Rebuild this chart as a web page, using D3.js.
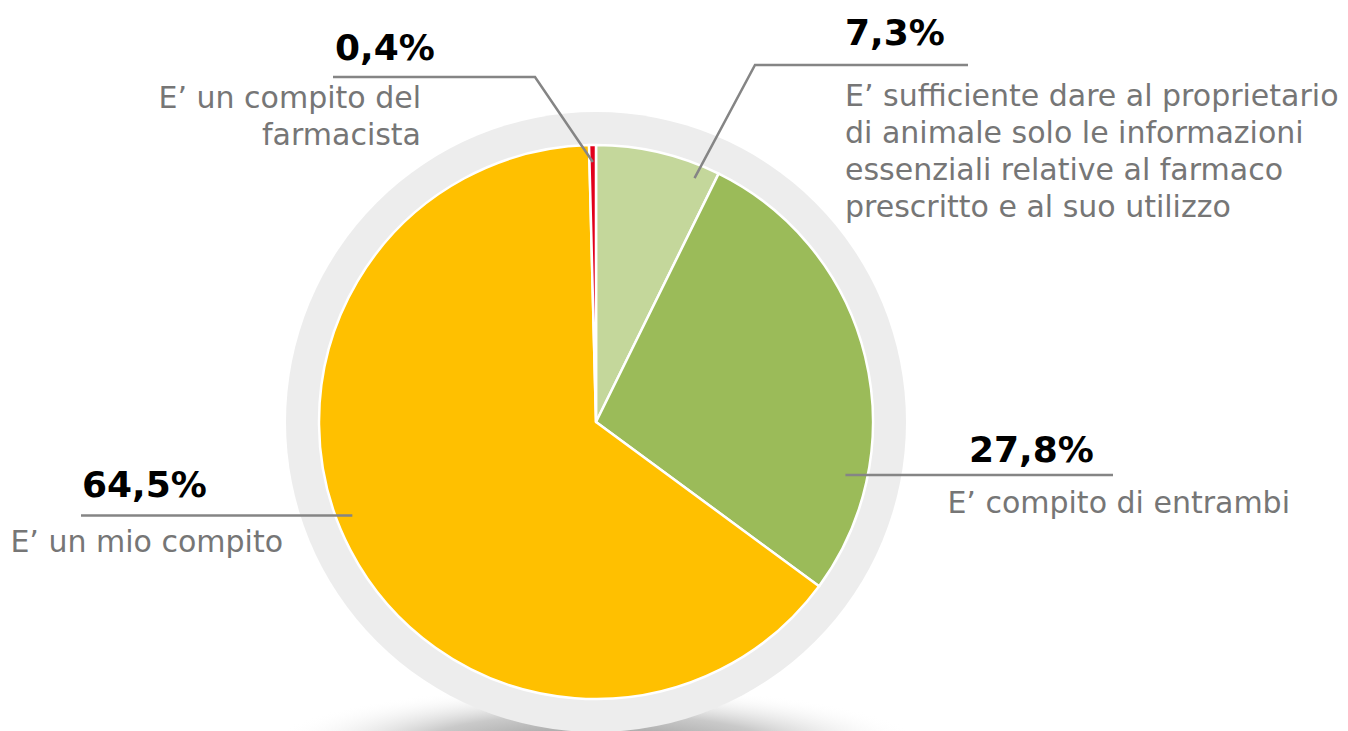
<!DOCTYPE html>
<html>
<head>
<meta charset="utf-8">
<script src="https://cdn.jsdelivr.net/npm/d3@7"></script>
<style>
  body { margin: 0; background: #fff; }
  svg { display: block; }
</style>
</head>
<body>
<div id="chart"></div>
<script>
// data (clockwise from 12 o'clock)
var categories = [
    "E\u2019 sufficiente dare al proprietario|di animale solo le informazioni|essenziali relative al farmaco|prescritto e al suo utilizzo",
    "E\u2019 compito di entrambi",
    "E\u2019 un mio compito",
    "E\u2019 un compito del|farmacista"
];
var values = [7.3, 27.8, 64.5, 0.4];
var valueLabels = ["7,3%", "27,8%", "64,5%", "0,4%"];
var colors = ["#c4d79b", "#9bbb59", "#ffc000", "#e2001a"];

// label layout: leader start (angle deg, radius), elbow, line end, text spots
var layout = [
    {ang: 22, r: 263, elbow: [755, 65], end: 968, px: 845, py: 45, pa: "start", lx: 845, ly: 106, la: "start"},
    {ang: 102, r: 255, elbow: null, end: 1113, px: 969, py: 462, pa: "start", lx: 1290, ly: 513, la: "end"},
    {ang: 249, r: 261, elbow: null, end: 81, px: 82, py: 497, pa: "start", lx: 283, ly: 552, la: "end"},
    {ang: 359.3, r: 260, elbow: [535, 77], end: 333, px: 335, py: 60, pa: "start", lx: 421, ly: 108, la: "end"}
];

var W = 1348, H = 731;
var cx = 596, cy = 422, radius = 277, ringR = 310;

var svg = d3.select("#chart").append("svg")
    .attr("width", W)
    .attr("height", H);

var defs = svg.append("defs");
var grad = defs.append("radialGradient").attr("id", "shadowGrad");
grad.append("stop").attr("offset", "0%").attr("stop-color", "#8a8a8a").attr("stop-opacity", 1);
grad.append("stop").attr("offset", "55%").attr("stop-color", "#c0c0c0").attr("stop-opacity", 0.85);
grad.append("stop").attr("offset", "100%").attr("stop-color", "#ffffff").attr("stop-opacity", 0);

// soft shadow under the plate
svg.append("ellipse")
    .attr("cx", cx).attr("cy", 748)
    .attr("rx", 330).attr("ry", 62)
    .attr("fill", "url(#shadowGrad)");

var g = svg.append("g").attr("transform", "translate(" + cx + "," + cy + ")");

// grey plate behind the pie
g.append("circle").attr("r", ringR).attr("fill", "#ededed");

var pie = d3.pie().sort(null).value(function(d) { return d; });
var arc = d3.arc().innerRadius(0).outerRadius(radius);

g.selectAll("path.slice")
    .data(pie(values))
    .enter().append("path")
    .attr("class", "slice")
    .attr("d", arc)
    .attr("fill", function(d, i) { return colors[i]; })
    .attr("stroke", "#fff")
    .attr("stroke-width", 2.5)
    .attr("stroke-linejoin", "round");

// leaders and labels
layout.forEach(function(L, i) {
    var a = L.ang * Math.PI / 180;
    var sx = cx + L.r * Math.sin(a), sy = cy - L.r * Math.cos(a);
    var pts;
    if (L.elbow) pts = [[sx, sy], L.elbow, [L.end, L.elbow[1]]];
    else pts = [[sx, sy], [L.end, sy]];

    svg.append("path")
        .attr("d", d3.line()(pts))
        .attr("fill", "none")
        .attr("stroke", "#858585")
        .attr("stroke-width", 2.5);

    svg.append("text")
        .attr("x", L.px).attr("y", L.py)
        .attr("text-anchor", L.pa)
        .style("font-family", "'DejaVu Sans', Verdana, sans-serif")
        .style("font-weight", "bold")
        .style("font-size", "36px")
        .style("fill", "#000")
        .text(valueLabels[i]);

    var lines = categories[i].split("|");
    var t = svg.append("text")
        .attr("x", L.lx).attr("y", L.ly)
        .attr("text-anchor", L.la)
        .style("font-family", "'DejaVu Sans', Verdana, sans-serif")
        .style("font-size", "30px")
        .style("fill", "#767676");
    lines.forEach(function(s, k) {
        t.append("tspan").attr("x", L.lx).attr("dy", k === 0 ? 0 : 37).text(s);
    });
});
</script>
</body>
</html>
